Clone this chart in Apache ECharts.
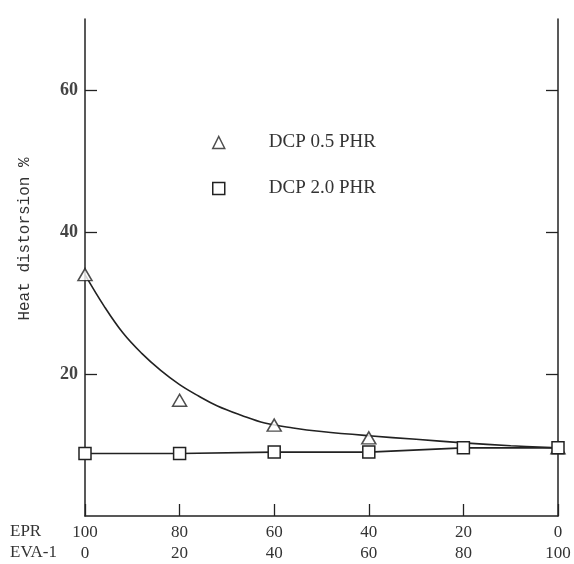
<!DOCTYPE html>
<html>
<head>
<meta charset="utf-8">
<script src="https://cdn.jsdelivr.net/npm/echarts@6/dist/echarts.min.js"></script>
<style>
html,body{margin:0;padding:0;background:#fff;}
#chart{width:574px;height:564px;}
</style>
</head>
<body>
<div id="chart"></div>
<script>
// ---- data ----
var eprTicks = [100, 80, 60, 40, 20, 0];
var evaTicks = [0, 20, 40, 60, 80, 100];
var yTicks = [20, 40, 60];

var dcp05X = [100, 80, 60, 40, 0];
var dcp05Y = [34.0, 16.3, 12.8, 11.0, 9.6];

var dcp20X = [100, 80, 60, 40, 20, 0];
var dcp20Y = [8.8, 8.8, 9.0, 9.0, 9.6, 9.6];

// fitted curve through DCP 0.5 PHR
var curveX = [100, 96, 92, 88, 84, 80, 76, 72, 67, 62, 56, 50, 40, 30, 20, 10, 0];
var curveY = [34.0, 29.6, 25.8, 22.9, 20.5, 18.5, 16.9, 15.5, 14.2, 13.1, 12.4, 11.9, 11.3, 10.8, 10.3, 9.9, 9.6];

function pairs(xs, ys) { return xs.map(function (x, i) { return [x, ys[i]]; }); }

var chart = echarts.init(document.getElementById('chart'));
var serif = '"Liberation Serif", "DejaVu Serif", serif';
var ink = '#222';

chart.setOption({
  backgroundColor: '#fff',
  animation: false,
  grid: { left: 85, right: 16, top: 19, bottom: 48 },
  legend: {
    orient: 'vertical',
    left: 207,
    top: 128,
    itemWidth: 12,
    itemHeight: 12,
    itemGap: 27,
    textStyle: { fontFamily: serif, fontSize: 19, color: '#333', padding: [0, 0, 0, 39] },
    data: [
      { name: 'DCP 0.5 PHR', icon: 'triangle', itemStyle: { color: '#fff', borderColor: ink, borderWidth: 1.5 } },
      { name: 'DCP 2.0 PHR', icon: 'rect', itemStyle: { color: '#fff', borderColor: ink, borderWidth: 1.5 } }
    ]
  },
  xAxis: {
    type: 'value',
    min: 0, max: 100, interval: 20,
    inverse: true,
    splitLine: { show: false },
    axisLine: { show: true, onZero: false, lineStyle: { color: ink, width: 1.5 } },
    axisTick: { show: true, inside: true, length: 12, lineStyle: { color: ink, width: 1.3 } },
    axisLabel: {
      margin: 6,
      fontFamily: serif, fontSize: 17, color: '#333', lineHeight: 21,
      formatter: function (v) {
        var i = eprTicks.indexOf(v);
        return i < 0 ? '' : eprTicks[i] + '\n' + evaTicks[i];
      }
    }
  },
  yAxis: [{
    type: 'value',
    min: 0, max: 70,
    position: 'left',
    splitLine: { show: false },
    axisLine: { show: true, onZero: false, lineStyle: { color: ink, width: 1.5 } },
    axisTick: { show: true, inside: true, length: 12, customValues: yTicks, lineStyle: { color: ink, width: 1.3 } },
    axisLabel: { customValues: yTicks, margin: 7, fontFamily: serif, fontSize: 18, fontWeight: 'bold', color: '#444' }
  }, {
    type: 'value',
    min: 0, max: 70,
    position: 'right',
    splitLine: { show: false },
    axisLine: { show: true, onZero: false, lineStyle: { color: ink, width: 1.5 } },
    axisTick: { show: true, inside: true, length: 12, customValues: yTicks, lineStyle: { color: ink, width: 1.3 } },
    axisLabel: { show: false }
  }],
  graphic: [
    { type: 'text', left: 10, top: 523, style: { text: 'EPR', fontFamily: serif, fontSize: 17, fill: '#333' } },
    { type: 'text', left: 10, top: 544, style: { text: 'EVA-1', fontFamily: serif, fontSize: 17, fill: '#333' } },
    { type: 'text', x: 25, y: 239, rotation: Math.PI / 2,
      style: { text: 'Heat distorsion %', fontFamily: '"Liberation Mono", monospace', fontSize: 16, fill: '#333', align: 'center', verticalAlign: 'middle' } }
  ],
  series: [
    {
      name: 'fit', type: 'line', data: pairs(curveX, curveY),
      smooth: 0.4, showSymbol: false, symbol: 'none', z: 2,
      lineStyle: { color: ink, width: 1.6 }
    },
    {
      name: 'DCP 2.0 PHR', type: 'line', data: pairs(dcp20X, dcp20Y),
      symbol: 'rect', symbolSize: 12, z: 4,
      lineStyle: { color: ink, width: 1.6 },
      itemStyle: { color: '#fff', borderColor: ink, borderWidth: 1.5 }
    },
    {
      name: 'DCP 0.5 PHR', type: 'scatter', data: pairs(dcp05X, dcp05Y),
      symbol: 'triangle', symbolSize: [14, 12], z: 3,
      itemStyle: { color: '#fff', borderColor: ink, borderWidth: 1.5 }
    }
  ]
});
</script>
</body>
</html>
